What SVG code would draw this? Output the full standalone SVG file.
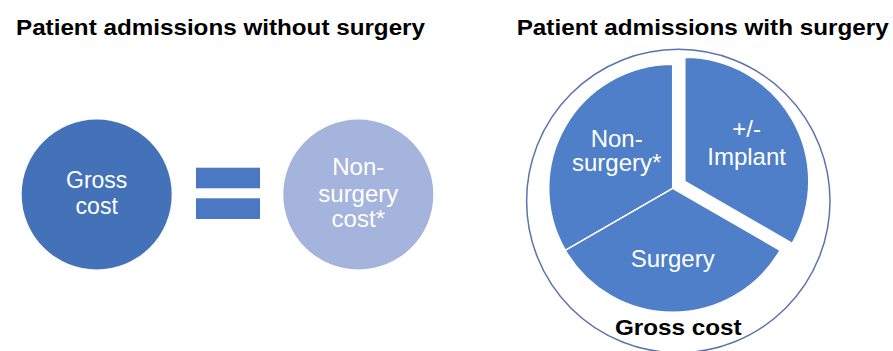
<svg xmlns="http://www.w3.org/2000/svg" width="893" height="351" viewBox="0 0 893 351">
  <style>
    .title { font-family: "Liberation Sans", Arial, sans-serif; font-weight: bold; font-size: 22.5px; fill: #000; }
    .lbl { font-family: "Liberation Sans", Arial, sans-serif; font-size: 24px; fill: #fff; text-anchor: middle; }
    .slice { fill: #4e7fc8; stroke: #fff; stroke-width: 1.5; stroke-linejoin: round; }
  </style>

  <!-- Section headings -->
  <text class="title" x="16" y="35.3" textLength="409" lengthAdjust="spacingAndGlyphs">Patient admissions without surgery</text>
  <text class="title" x="516.7" y="35.3" textLength="372" lengthAdjust="spacingAndGlyphs">Patient admissions with surgery</text>

  <!-- Without surgery: gross cost = non-surgery cost -->
  <g id="gross-cost">
    <circle cx="96.7" cy="194.5" r="75" fill="#4472b9"/>
    <text class="lbl" font-size="23" x="96.7" y="188.3" style="font-size:23px">Gross</text>
    <text class="lbl" x="96.7" y="214.3" style="font-size:23px">cost</text>
  </g>

  <g id="equals" fill="#4a78c2">
    <rect x="196" y="167.7" width="64" height="20.6"/>
    <rect x="196" y="198.3" width="64" height="20.7"/>
  </g>

  <g id="non-surgery-cost">
    <circle cx="358.3" cy="194.5" r="75" fill="#a5b4dc"/>
    <text class="lbl" x="358.3" y="175">Non-</text>
    <text class="lbl" x="358.3" y="201.5">surgery</text>
    <text class="lbl" x="358.3" y="227">cost*</text>
  </g>

  <!-- With surgery: pie of cost components inside gross cost ring -->
  <g id="gross-cost-ring">
    <circle cx="678.3" cy="201" r="151.7" fill="none" stroke="#5b75ab" stroke-width="1.5"/>
    <text class="title" x="678.3" y="335" text-anchor="middle" textLength="126.7" lengthAdjust="spacingAndGlyphs">Gross cost</text>
  </g>

  <g id="slice-non-surgery">
    <path class="slice" d="M672.7,188.3 L565.3,250.3 A124,124 0 0 1 672.7,64.3 Z"/>
    <text class="lbl" x="616.7" y="146.5">Non-</text>
    <text class="lbl" x="616.7" y="171">surgery*</text>
  </g>

  <g id="slice-surgery">
    <path class="slice" d="M672.7,188.3 L780.1,250.3 A124,124 0 0 1 565.3,250.3 Z"/>
    <text class="lbl" x="672.7" y="266.7">Surgery</text>
  </g>

  <g id="slice-implant">
    <path class="slice" d="M684.8,181.3 L684.8,57.3 A124,124 0 0 1 792.2,243.3 Z"/>
    <text class="lbl" x="746.6" y="136.7">+/-</text>
    <text class="lbl" x="746.6" y="165">Implant</text>
  </g>
</svg>
